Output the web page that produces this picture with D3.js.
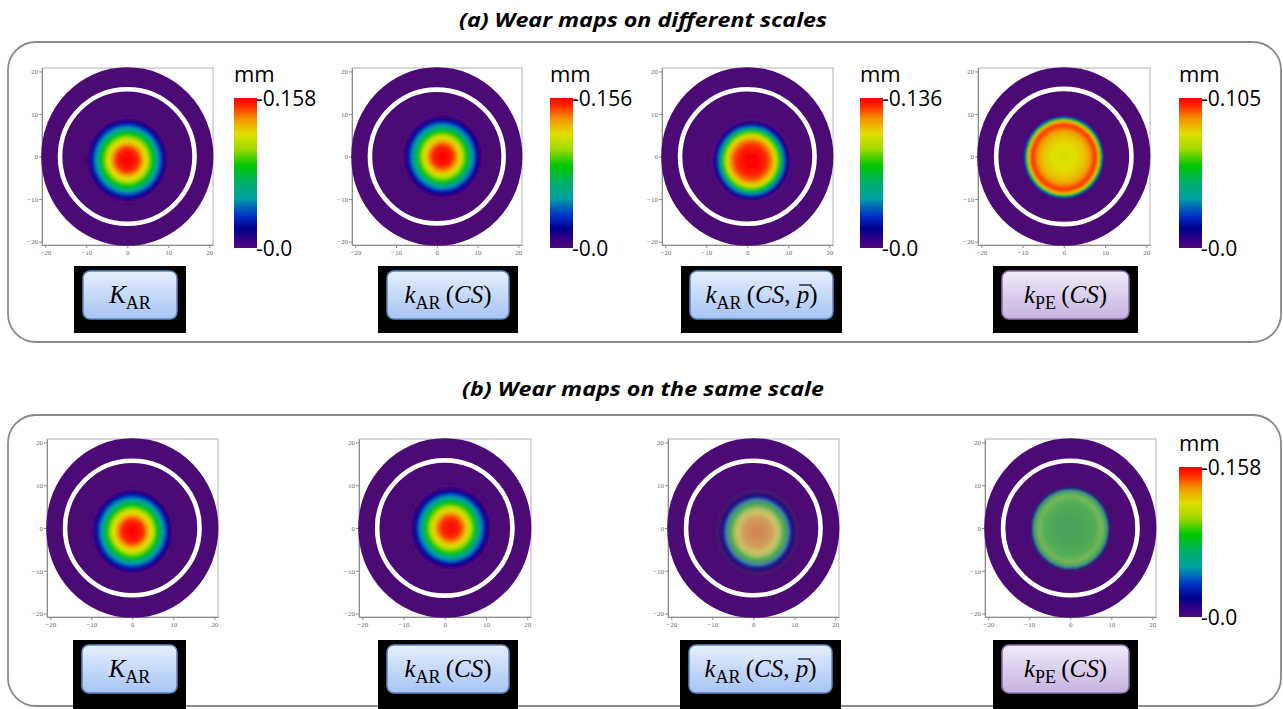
<!DOCTYPE html>
<html>
<head>
<meta charset="utf-8">
<script src="https://cdn.jsdelivr.net/npm/d3@7"></script>
<style>
  body { margin: 0; background: #fff; }
  svg { display: block; }
</style>
</head>
<body>
<svg id="fig" width="1283" height="709"></svg>
<script>
// ---- Data -------------------------------------------------------------
// Radial distance from the wear centre (mm)
const radiiMm = [0, 0.5, 1, 1.5, 2, 2.5, 3, 3.5, 4, 4.5, 5, 5.5, 6, 6.5, 7, 7.5, 8, 8.5, 9, 9.5, 10];

// Linear wear depth (mm) along the radius for each wear model
const wearKAR      = [0.158, 0.158, 0.156, 0.155, 0.152, 0.150, 0.145, 0.136, 0.128, 0.120, 0.111, 0.100, 0.088, 0.077, 0.065, 0.052, 0.041, 0.030, 0.017, 0.006, 0.000];
const wearKarCS    = [0.156, 0.156, 0.154, 0.152, 0.150, 0.147, 0.140, 0.133, 0.123, 0.114, 0.105, 0.094, 0.083, 0.070, 0.059, 0.047, 0.036, 0.023, 0.012, 0.003, 0.000];
const wearKarCSp   = [0.136, 0.136, 0.135, 0.135, 0.133, 0.132, 0.131, 0.129, 0.126, 0.122, 0.117, 0.109, 0.099, 0.086, 0.071, 0.054, 0.038, 0.023, 0.010, 0.001, 0.000];
const wearKpeCS    = [0.078, 0.078, 0.078, 0.079, 0.079, 0.080, 0.080, 0.081, 0.082, 0.083, 0.084, 0.086, 0.088, 0.091, 0.095, 0.098, 0.096, 0.084, 0.056, 0.018, 0.000];
const wearProfiles = [wearKAR, wearKarCS, wearKarCSp, wearKpeCS];

// Maximum wear depth of each map (mm) and the shared scale of row (b)
const maxWear = [0.158, 0.156, 0.136, 0.105];
const sharedMax = 0.158;

// Position of the deepest wear on the cup face (mm)
const wearCentres = [[0.0, -0.8], [1.4, 0.0], [1.0, -1.0], [0.0, -0.2]];

// Cup face radius and inner rim radius (mm)
const cupRadius = 21;
const rimRadius = 16.4;

const axisTicks = [-20, -10, 0, 10, 20];

// Model labels: pieces of the formula text
const modelLabels = [
  [{t: "K", it: true}, {t: "AR", sub: true}],
  [{t: "k", it: true}, {t: "AR", sub: true}, {t: "\u2009("}, {t: "CS", it: true}, {t: ")"}],
  [{t: "k", it: true}, {t: "AR", sub: true}, {t: "\u2009("}, {t: "CS", it: true}, {t: ", "}, {t: "p", it: true, bar: true}, {t: ")"}],
  [{t: "k", it: true}, {t: "PE", sub: true}, {t: "\u2009("}, {t: "CS", it: true}, {t: ")"}]
];
const labelTheme = ["blue", "blue", "blue", "purple"];

const panelTitles = ["(a) Wear maps on different scales", "(b) Wear maps on the same scale"];

// ---- Colour map -------------------------------------------------------
const cmapStops  = [0.00, 0.05, 0.13, 0.22, 0.33, 0.44, 0.55, 0.66, 0.76, 0.86, 0.95, 1.00];
const cmapColors = ["#4b0a78", "#3a0084", "#00008c", "#0034c8", "#00a0a4", "#00b064", "#00c800", "#a0d800", "#e2e000", "#f29400", "#ff2400", "#ff0000"];
const cmap = d3.scaleLinear().domain(cmapStops).range(cmapColors).clamp(true);
const discColor = "#4b0a74";

// ---- Layout -----------------------------------------------------------
const rows = [
  {
    frames: [[42, 213], [352, 522], [662, 833], [978, 1150]], fy: [68, 245],
    bars: [234, 550, 860, 1179], barY: [98, 248], showBar: [true, true, true, true],
    boxes: [[74, 186], [378, 518], [681, 842], [993, 1138]], boxY: [266, 333],
    scaleMax: maxWear, spotFilter: ["soft", "soft", "soft", "soft"], spotOpacity: [1, 1, 1, 1]
  },
  {
    frames: [[47, 218], [359, 531], [668, 839], [985, 1156]], fy: [439, 617],
    bars: [null, null, null, 1179], barY: [467, 617], showBar: [false, false, false, true],
    boxes: [[73, 186], [378, 518], [680, 841], [993, 1138]], boxY: [640, 712],
    scaleMax: [sharedMax, sharedMax, sharedMax, sharedMax],
    spotFilter: ["soft", "soft", "muted", "muted"], spotOpacity: [1, 1, 0.88, 0.88]
  }
];

const svg = d3.select("#fig");
const defs = svg.append("defs");

// smooth the stepped rings of each wear spot
defs.append("filter").attr("id", "soft").attr("x", "-20%").attr("y", "-20%").attr("width", "140%").attr("height", "140%")
  .append("feGaussianBlur").attr("stdDeviation", 1.2);
// same smoothing, with less saturated colours
const muted = defs.append("filter").attr("id", "muted").attr("x", "-20%").attr("y", "-20%").attr("width", "140%").attr("height", "140%");
muted.append("feGaussianBlur").attr("stdDeviation", 1.2).attr("result", "b");
muted.append("feColorMatrix").attr("in", "b").attr("type", "saturate").attr("values", 0.8);

const cbGrad = defs.append("linearGradient").attr("id", "cbar")
  .attr("x1", 0).attr("y1", 1).attr("x2", 0).attr("y2", 0);
cmapStops.forEach((s, i) => cbGrad.append("stop").attr("offset", s).attr("stop-color", cmapColors[i]));

const themes = {
  blue:   {top: "#e6effd", bottom: "#a6c4f4", stroke: "#5a86c2"},
  purple: {top: "#f0ebf8", bottom: "#c6b2e0", stroke: "#8a70ac"}
};
Object.entries(themes).forEach(([k, th]) => {
  const g = defs.append("linearGradient").attr("id", "box-" + k).attr("x1", 0).attr("y1", 0).attr("x2", 0).attr("y2", 1);
  g.append("stop").attr("offset", 0).attr("stop-color", th.top);
  g.append("stop").attr("offset", 1).attr("stop-color", th.bottom);
});

// ---- Panels and titles ------------------------------------------------
const panels = [{y0: 42, y1: 342, ty: 27}, {y0: 415, y1: 706, ty: 396}];
panels.forEach((p, i) => {
  svg.append("rect").attr("x", 8).attr("y", p.y0).attr("width", 1273).attr("height", p.y1 - p.y0)
    .attr("rx", 28).attr("fill", "none").attr("stroke", "#8a8a8a").attr("stroke-width", 1.8);
  svg.append("text").attr("x", 643).attr("y", p.ty).attr("text-anchor", "middle")
    .attr("font-family", "'Open Sans', sans-serif").attr("font-weight", 700).attr("font-style", "italic")
    .attr("font-size", 20).attr("textLength", i === 0 ? 368 : 362).attr("lengthAdjust", "spacingAndGlyphs")
    .attr("fill", "#000").text(panelTitles[i]);
});

// ---- Wear maps --------------------------------------------------------
function drawMap(row, i) {
  const [fx0, fx1] = row.frames[i];
  const [fy0, fy1] = row.fy;
  const x = d3.scaleLinear().domain([-20.8, 20.9]).range([fx0, fx1]);
  const y = d3.scaleLinear().domain([-20.8, 20.8]).range([fy1, fy0]);
  const g = svg.append("g");

  g.append("rect").attr("x", fx0).attr("y", fy0).attr("width", fx1 - fx0).attr("height", fy1 - fy0)
    .attr("fill", "#fff").attr("stroke", "#b0b0b0").attr("stroke-width", 1);

  const styleAxis = a => {
    a.selectAll("path,line").attr("stroke", "#8c8c8c");
    a.selectAll("text").attr("font-family", "'Liberation Serif', serif").attr("font-size", 7).attr("fill", "#6a6a6a");
  };
  g.append("g").attr("transform", `translate(0,${fy1})`)
    .call(d3.axisBottom(x).tickValues(axisTicks).tickSize(3).tickSizeOuter(0).tickPadding(2)).call(styleAxis);
  g.append("g").attr("transform", `translate(${fx0},0)`)
    .call(d3.axisLeft(y).tickValues(axisTicks).tickSize(3).tickSizeOuter(0).tickPadding(1)).call(styleAxis);

  // cup face
  g.append("ellipse").attr("cx", x(0)).attr("cy", y(0))
    .attr("rx", x(cupRadius) - x(0)).attr("ry", y(0) - y(cupRadius)).attr("fill", discColor);

  // wear spot: concentric bands, outermost first
  const [cx, cy] = wearCentres[i];
  const prof = wearProfiles[i];
  const maxV = row.scaleMax[i];
  const bands = radiiMm.map((r, j) => ({r: r + 0.25, v: prof[j]})).reverse();
  g.append("g").attr("filter", `url(#${row.spotFilter[i]})`).attr("opacity", row.spotOpacity[i])
    .selectAll("ellipse").data(bands).join("ellipse")
    .attr("cx", x(cx)).attr("cy", y(cy))
    .attr("rx", d => x(d.r) - x(0)).attr("ry", d => y(0) - y(d.r))
    .attr("fill", d => cmap(d.v / maxV));

  // inner rim of the cup
  g.append("circle").attr("cx", x(0)).attr("cy", y(0)).attr("r", x(rimRadius) - x(0))
    .attr("fill", "none").attr("stroke", "#fff").attr("stroke-width", 4.6);

  // colour bar
  if (row.showBar[i]) {
    const bx = row.bars[i];
    const [by0, by1] = row.barY;
    const bar = d3.scaleLinear().domain([0, maxV]).range([by1, by0]);
    g.append("rect").attr("x", bx).attr("y", bar(maxV)).attr("width", 23).attr("height", bar(0) - bar(maxV))
      .attr("fill", "url(#cbar)");
    const font = "'Open Sans', sans-serif";
    g.append("text").attr("x", bx).attr("y", by0 - 16).attr("font-family", font).attr("font-size", 22)
      .attr("fill", "#000").text("mm");
    [[maxV, "-" + maxV.toFixed(3)], [0, "-0.0"]].forEach(([v, t]) => {
      g.append("text").attr("x", bx + 22).attr("y", bar(v)).attr("dy", "0.36em")
        .attr("font-family", font).attr("font-size", 21).attr("fill", "#000").text(t);
    });
  }

  // model label
  const [bx0, bx1] = row.boxes[i];
  const [byTop, byBot] = row.boxY;
  g.append("rect").attr("x", bx0).attr("y", byTop).attr("width", bx1 - bx0).attr("height", byBot - byTop).attr("fill", "#000");
  const th = labelTheme[i];
  g.append("rect").attr("x", bx0 + 9).attr("y", byTop + 5).attr("width", bx1 - bx0 - 18).attr("height", 48)
    .attr("rx", 7).attr("fill", `url(#box-${th})`).attr("stroke", themes[th].stroke).attr("stroke-width", 1.5);
  const tx = (bx0 + bx1) / 2, ty = byTop + 37;
  const txt = g.append("text").attr("x", tx).attr("y", ty).attr("text-anchor", "middle")
    .attr("font-family", "'Liberation Serif', 'Times New Roman', serif").attr("font-size", 25).attr("fill", "#000");
  let sub = false;
  modelLabels[i].forEach(p => {
    const ts = txt.append("tspan").text(p.t);
    if (p.it) ts.attr("font-style", "italic");
    if (p.sub) { ts.attr("font-size", 18).attr("dy", 6); sub = true; }
    else if (sub) { ts.attr("dy", -6); sub = false; }
  });
  // overbar on p
  let idx = 0;
  modelLabels[i].forEach(p => {
    if (p.bar) {
      const node = txt.node();
      const s = node.getStartPositionOfChar(idx), e = node.getEndPositionOfChar(idx);
      g.append("line").attr("x1", s.x + 2.5).attr("x2", e.x + 2.5).attr("y1", ty - 18).attr("y2", ty - 18)
        .attr("stroke", "#000").attr("stroke-width", 1.2);
    }
    idx += p.t.length;
  });
}

rows.forEach(row => row.frames.forEach((_, i) => drawMap(row, i)));
</script>
</body>
</html>
